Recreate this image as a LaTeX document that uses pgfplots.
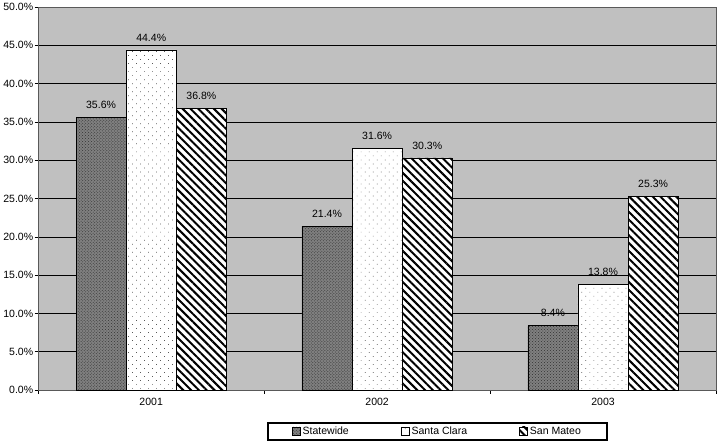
\documentclass[border=0pt]{standalone}
\usepackage{pgfplots}
\pgfplotsset{compat=1.18}
\usepackage{fontspec}
\setmainfont{Liberation Sans}
\usetikzlibrary{patterns,patterns.meta}
\definecolor{bgc}{RGB}{192,192,192}
\begin{document}
\begin{tikzpicture}
\begin{axis}[
  scale only axis, width=676pt, height=382pt,
  ybar=0pt, bar width=50pt,
  xmin=-0.5, xmax=2.5, ymin=0, ymax=50,
  tick pos=left,
  xtick={-0.5,0.5,1.5,2.5}, xticklabels={},
  extra x ticks={0,1,2}, extra x tick labels={2001,2002,2003},
  extra x tick style={major tick length=0pt, tick style={draw=none}},
  xtick style={black, line width=0.6pt},
  ytick={0,5,...,50},
  yticklabel={\pgfmathprintnumber[fixed,fixed zerofill,precision=1]{\tick}\%},
  /pgf/number format/assume math mode=true,
  ytick style={black, line width=0.6pt},
  tick align=outside, major tick length=3.5pt,
  ymajorgrids, grid style={black, line width=0.6pt},
  axis background/.style={fill=bgc},
  axis line style={draw=gray!70!black, line width=0.8pt},
  tick label style={font=\fontsize{10.5}{12}\selectfont},
  yticklabel style={xshift=2pt},
  xticklabel style={yshift=-5pt},
  nodes near coords={\pgfmathprintnumber[fixed,fixed zerofill,precision=1]{\pgfplotspointmeta}\%},
  nodes near coords style={font=\fontsize{10.5}{12}\selectfont, yshift=5pt},
  area legend,
  legend columns=3,
  legend style={at={(0.589,-0.084)}, anchor=north, draw=black, line width=1.4pt,
    font=\fontsize{10.5}{12}\selectfont, inner ysep=2pt, inner xsep=24pt,
    /tikz/every even column/.append style={column sep=50pt}},
  legend image code/.code={\draw[#1, line width=0.6pt] (0pt,-3.5pt) rectangle (8pt,4.5pt);},
]
\addplot[draw=black, line width=0.6pt, fill=gray, postaction={pattern=crosshatch dots, pattern color=black!80}]
  coordinates {(0,35.6) (1,21.4) (2,8.4)};
\addplot[draw=black, line width=0.6pt, fill=white, postaction={pattern={Dots[distance=5.66pt, angle=45, radius=0.5pt]}, pattern color=gray!70!black}]
  coordinates {(0,44.4) (1,31.6) (2,13.8)};
\addplot[draw=black, line width=0.6pt, fill=white, postaction={pattern={Lines[angle=-45, distance=5.5pt, line width=2pt]}, pattern color=black}]
  coordinates {(0,36.8) (1,30.3) (2,25.3)};
\legend{Statewide, Santa Clara, San Mateo}
\end{axis}
\path (current axis.north east) ++(4pt,0pt) coordinate (rm);
\path (rm) circle (0pt);
\end{tikzpicture}
\end{document}
